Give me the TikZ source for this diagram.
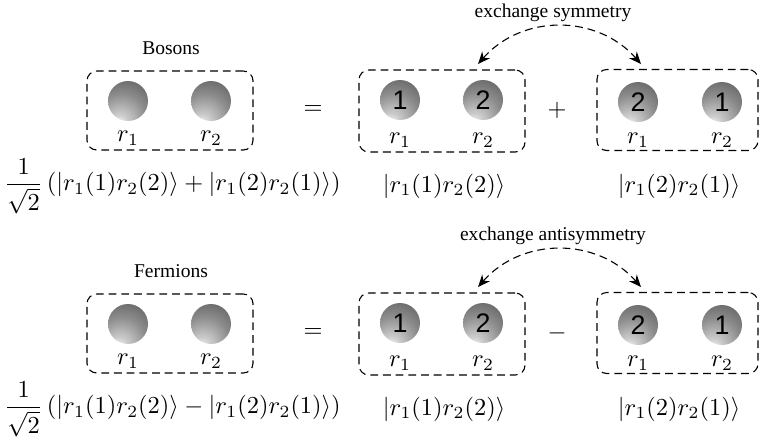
\documentclass[tikz,border=0pt]{standalone}
\usepackage{fontspec}
\newfontfamily\ballfont{Liberation Sans}
\newfontfamily\labfont{Liberation Serif}
\usetikzlibrary{arrows.meta}
\pgfdeclareradialshading{ballsh}{\pgfpoint{-12bp}{-30bp}}{color(0bp)=(white); color(10bp)=(black!20); color(30bp)=(black!45); color(55bp)=(black!68); color(100bp)=(black!75)}
\def\u{0.41pt}
\begin{document}
\begin{tikzpicture}[x=\u,y=-\u,
  pbox/.style={draw, dash pattern=on 3.2pt off 2pt, rounded corners=4pt, inner sep=0pt, line width=0.45pt},
  ball/.style={circle, minimum size=40*\u, inner sep=0pt, shading=ballsh, font=\ballfont\fontsize{11pt}{13pt}\selectfont},
  lab/.style={font=\labfont\fontsize{8pt}{10pt}\selectfont, inner sep=0pt},
  rlab/.style={inner sep=0pt},
  xarrow/.style={dash pattern=on 3.2pt off 2pt, line width=0.45pt, {Stealth[length=5pt,width=4.2pt]}-{Stealth[length=5pt,width=4.2pt]}}
]
\useasboundingbox (0,0) rectangle (760,441);

% ---------------- top row: bosons ----------------
\node[lab] (bos) at (171,48) {Bosons};
\node[pbox, minimum width=166*\u, minimum height=79*\u] (b1) at (170,110.5) {};
\node[ball] (b1a) at (128,101) {};
\node[ball] (b1b) at (211,101) {};
\node[rlab] (b1ar) at (128,138) {$r_1$};
\node[rlab] (b1br) at (211,138) {$r_2$};
\node (beq) at (313,110) {$=$};

\node[pbox, minimum width=166*\u, minimum height=82*\u] (b2) at (442,111) {};
\node[ball] (b2a) at (400,100) {1};
\node[ball] (b2b) at (483,100) {2};
\node[rlab] (b2ar) at (400,140) {$r_1$};
\node[rlab] (b2br) at (483,140) {$r_2$};
\node (bplus) at (557,110) {$+$};

\node[pbox, minimum width=161*\u, minimum height=81*\u] (b3) at (677.5,110) {};
\node[ball] (b3a) at (638,102) {2};
\node[ball] (b3b) at (722,102) {1};
\node[rlab] (b3ar) at (638,140) {$r_1$};
\node[rlab] (b3br) at (722,140) {$r_2$};

\coordinate (ba1) at (478,64);
\coordinate (ba2) at (641,64);
\draw[xarrow] (ba1) .. controls (522,14) and (597,14) .. (ba2);
\node[lab] (bex) at (553,13) {exchange symmetry};

\node[anchor=west, inner sep=0pt] (bf) at (4,186)
  {$\displaystyle\frac{1}{\sqrt{2}}\,(|r_1(1)r_2(2)\rangle+|r_1(2)r_2(1)\rangle)$};
\node[inner sep=0pt] (bk1) at (444,186) {$|r_1(1)r_2(2)\rangle$};
\node[inner sep=0pt] (bk2) at (679,186) {$|r_1(2)r_2(1)\rangle$};

% ---------------- bottom row: fermions ----------------
\begin{scope}[yshift=-223*\u]
\node[lab] (fer) at (171,48) {Fermions};
\node[pbox, minimum width=166*\u, minimum height=79*\u] (f1) at (170,110.5) {};
\node[ball] (f1a) at (128,101) {};
\node[ball] (f1b) at (211,101) {};
\node[rlab] (f1ar) at (128,138) {$r_1$};
\node[rlab] (f1br) at (211,138) {$r_2$};
\node (feq) at (313,110) {$=$};

\node[pbox, minimum width=166*\u, minimum height=82*\u] (f2) at (442,111) {};
\node[ball] (f2a) at (400,100) {1};
\node[ball] (f2b) at (483,100) {2};
\node[rlab] (f2ar) at (400,140) {$r_1$};
\node[rlab] (f2br) at (483,140) {$r_2$};
\node (fminus) at (557,110) {$-$};

\node[pbox, minimum width=161*\u, minimum height=81*\u] (f3) at (677.5,110) {};
\node[ball] (f3a) at (638,102) {2};
\node[ball] (f3b) at (722,102) {1};
\node[rlab] (f3ar) at (638,140) {$r_1$};
\node[rlab] (f3br) at (722,140) {$r_2$};

\coordinate (fa1) at (478,64);
\coordinate (fa2) at (641,64);
\draw[xarrow] (fa1) .. controls (522,14) and (597,14) .. (fa2);
\node[lab] (fex) at (553,13) {exchange antisymmetry};

\node[anchor=west, inner sep=0pt] (ff) at (4,186)
  {$\displaystyle\frac{1}{\sqrt{2}}\,(|r_1(1)r_2(2)\rangle-|r_1(2)r_2(1)\rangle)$};
\node[inner sep=0pt] (fk1) at (444,186) {$|r_1(1)r_2(2)\rangle$};
\node[inner sep=0pt] (fk2) at (679,186) {$|r_1(2)r_2(1)\rangle$};
\end{scope}
\end{tikzpicture}
\end{document}
